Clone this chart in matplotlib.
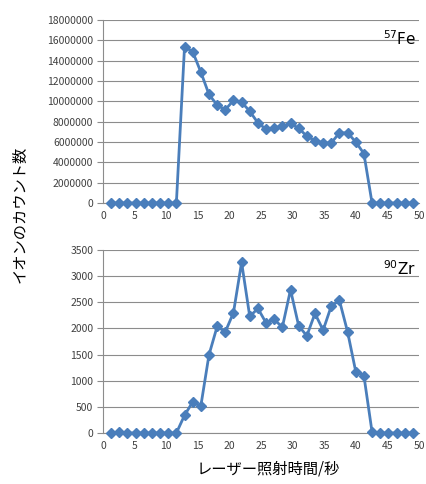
import numpy as np
import matplotlib
matplotlib.use("Agg")
import matplotlib.pyplot as plt
from matplotlib.ticker import FuncFormatter

plt.rcParams['font.family'] = ['Noto Sans CJK JP', 'DejaVu Sans']

# laser irradiation time (s) for each acquisition
time_s = [1.29, 2.58, 3.87, 5.16, 6.45, 7.74, 9.03, 10.32, 11.61, 12.9,
          14.19, 15.48, 16.77, 18.06, 19.35, 20.64, 21.93, 23.22, 24.51, 25.8,
          27.09, 28.38, 29.67, 30.96, 32.25, 33.54, 34.83, 36.12, 37.41, 38.7,
          39.99, 41.28, 42.57, 43.86, 45.15, 46.44, 47.73, 49.02]

# ion counts
fe57 = [0, 0, 0, 0, 0, 0, 0, 0, 0, 15370000,
        14880000, 12880000, 10680000, 9630000, 9170000, 10090000, 9920000, 9030000, 7880000, 7260000,
        7390000, 7560000, 7820000, 7360000, 6570000, 6140000, 5910000, 5910000, 6900000, 6900000,
        6010000, 4860000, 0, 0, 0, 0, 0, 0]
zr90 = [0, 20, 0, 0, 0, 0, 0, 0, 0, 338,
        594, 517, 1494, 2037, 1935, 2299, 3263, 2229, 2382, 2107,
        2171, 2024, 2739, 2050, 1858, 2286, 1967, 2427, 2535, 1935,
        1175, 1098, 20, 0, 0, 0, 0, 0]

fig = plt.figure(figsize=(4.27, 4.84), dpi=100)
ax1 = fig.add_axes([103/427, 1 - 203/484, 316/427, 183/484])
ax2 = fig.add_axes([103/427, 1 - 433/484, 316/427, 183/484])

line_color = '#4a7ebb'
plain = FuncFormatter(lambda v, pos: f'{int(v)}')
for ax, y, ymax, ystep, label in [
        (ax1, fe57, 18000000, 2000000, r'$^{57}$Fe'),
        (ax2, zr90, 3500, 500, r'$^{90}$Zr')]:
    ax.plot(time_s, y, color=line_color, lw=2.0, marker='D', ms=5,
            mec=line_color, mfc=line_color, zorder=3, clip_on=False)
    ax.set_xlim(0, 50)
    ax.set_ylim(0, ymax)
    ax.set_xticks(range(0, 51, 5))
    ax.set_yticks(np.arange(0, ymax + 1, ystep))
    ax.yaxis.set_major_formatter(plain)
    ax.yaxis.grid(True, color='#8c8c8c', lw=0.8)
    ax.set_axisbelow(True)
    for s in ['top', 'right']:
        ax.spines[s].set_visible(False)
    ax.spines['left'].set_color('#8c8c8c')
    ax.spines['bottom'].set_color('#8c8c8c')
    ax.tick_params(axis='y', length=4, color='#8c8c8c', labelsize=7.5,
                   labelcolor='#404040', pad=3)
    ax.tick_params(axis='x', length=0, labelsize=7.5, labelcolor='#404040', pad=6)
    ax.text(0.99, 0.9, label, transform=ax.transAxes, ha='right', va='center',
            fontsize=11, family='DejaVu Sans')

fig.text(20/427, 1 - 214/484, 'イオンのカウント数', rotation=90,
         ha='center', va='center', fontsize=11)
fig.text(268/427, 1 - 469/484, 'レーザー照射時間/秒',
         ha='center', va='center', fontsize=11)

fig.savefig('out.png', dpi=100)
